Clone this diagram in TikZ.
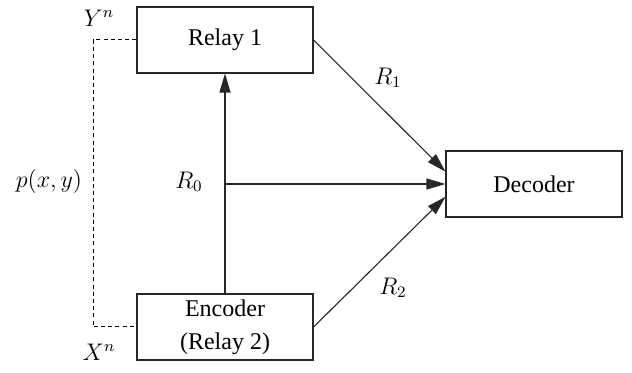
\documentclass[tikz,border=0pt]{standalone}
\usepackage{fontspec}
\setmainfont{LiberationSerif}[Extension=.ttf,UprightFont=*-Regular,BoldFont=*-Bold,ItalicFont=*-Italic]
\usetikzlibrary{arrows.meta}
\begin{document}
\begin{tikzpicture}[x=0.5pt,y=-0.5pt,
  font=\rmfamily\fontsize{12}{16.5}\selectfont,
  blk/.style={draw=black!85,line width=0.55pt,minimum width=88pt,minimum height=33pt,inner sep=0pt,align=center},
  conn/.style={draw=black!85,line width=0.55pt},
  arr/.style={conn,-{Triangle[length=9.5pt,width=5.5pt]}},
  dsh/.style={draw=black,line width=0.5pt,dash pattern=on 2pt off 1.6pt}]
\useasboundingbox (0,0) rectangle (632,373);
\node[blk] (relay) at (225,40) {Relay 1};
\node[blk] (enc) at (225,327) {Encoder\\(Relay 2)};
\node[blk] (dec) at (534,184) {Decoder};
\coordinate (j) at (225,184);
\coordinate (dt) at (93,40);
\coordinate (db) at (93,327);
\draw[arr] (enc.north) -- (relay.south);
\draw[arr] (j) -- (dec.west);
\draw[arr] (relay.east) -- ([yshift=6.2pt]dec.west);
\draw[arr] (enc.east) -- ([yshift=-6.4pt]dec.west);
\draw[dsh] (relay.west) -- (dt) -- (db) -- (enc.west);
\node (yn) at (99,18) {$Y^n$};
\node (xn) at (99,352) {$X^n$};
\node (pxy) at (49,182) {$p(x,y)$};
\node (r0) at (189,182) {$R_0$};
\node (r1) at (388,78) {$R_1$};
\node (r2) at (393,288) {$R_2$};
\end{tikzpicture}
\end{document}
